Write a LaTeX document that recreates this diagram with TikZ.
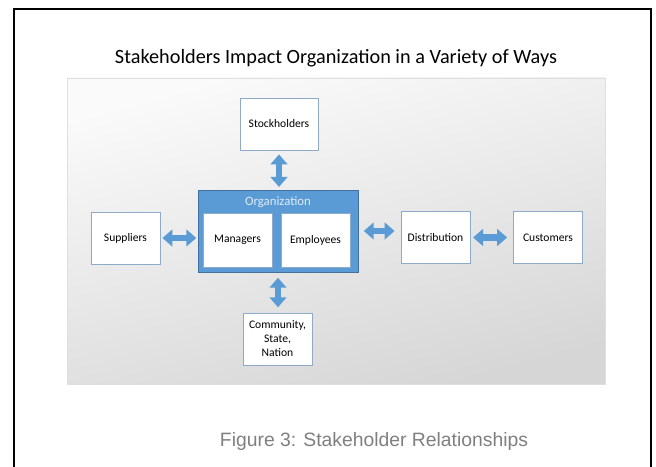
\documentclass[tikz,border=0pt]{standalone}
\usepackage{fontspec}
\setmainfont{Carlito}
\newfontfamily\capfont{Liberation Sans}
\usepackage{xcolor}
\usetikzlibrary{arrows.meta}
\definecolor{orgblue}{HTML}{5B9BD5}
\definecolor{orgedge}{HTML}{41719C}
\definecolor{boxedge}{HTML}{8EAACB}
\definecolor{orgtext}{HTML}{DDEBF7}
\definecolor{capgray}{HTML}{7F7F7F}
\tikzstyle{party}=[draw=boxedge, fill=white, line width=.6pt, inner sep=0pt, align=center, font=\fontsize{8.7}{10.5}\selectfont]
\tikzstyle{org}=[draw=orgedge, fill=orgblue, line width=.6pt, inner sep=0pt]
\tikzstyle{link}=[orgblue, line width=5pt, {Triangle[width=12.5pt,length=7.5pt]}-{Triangle[width=12.5pt,length=7.5pt]}]

\begin{document}
\begin{tikzpicture}[x=.75pt, y=-.75pt]
\useasboundingbox (0,0) rectangle (656,467);
% frame and grey panel
\draw[line width=1.5pt] (14,470) -- (14,9) -- (651,9) -- (651,470);
\shade[top color=gray!4, bottom color=gray!32, shading angle=15, draw=gray!25, line width=.4pt] (67,78) rectangle (605,384);
\node[anchor=base, font=\fontsize{15.2}{17}\selectfont] (title) at (336,64) {Stakeholders Impact Organization in a Variety of Ways};
% organization with its two parts
\node[org, minimum width=160*.75pt, minimum height=82*.75pt] (org) at (278,231) {};
\node[text=orgtext, font=\fontsize{9.6}{11}\selectfont] (orglbl) at (278,202) {Organization};
\foreach \n/\x/\t in {mgr/237.5/Managers, emp/315.5/Employees}
  \node[party, minimum width=69*.75pt, minimum height=54*.75pt] (\n) at (\x,240) {\t};
% outside parties
\node[party, minimum width=78*.75pt, minimum height=52*.75pt] (stock) at (279,124) {Stockholders};
\foreach \n/\x/\y/\t in {sup/125.5/238/Suppliers, dist/435.5/237.5/Distribution, cust/548/237.5/Customers, comm/277.5/339/{Community,\\State,\\Nation}}
  \node[party, minimum width=69*.75pt, minimum height=52*.75pt] (\n) at (\x,\y) {\t};
% two-way links
\foreach \f/\t/\a/\b in {sup.east/org.west/1.5/1, org.east/dist.west/4/4.5, dist.east/cust.west/2/4.5}
  \draw[link, shorten <=\a pt, shorten >=\b pt] (\f) -- (\f -| \t);
\foreach \f/\t/\a/\b in {stock.south/org.north/3/2, org.south/comm.north/4/4}
  \draw[link, shorten <=\a pt, shorten >=\b pt] (\f) -- (\f |- \t);
\node[anchor=base, text=capgray, font=\capfont\fontsize{14.5}{16}\selectfont] (caption) at (374,446) {Figure 3: Stakeholder Relationships};
\end{tikzpicture}
\end{document}
